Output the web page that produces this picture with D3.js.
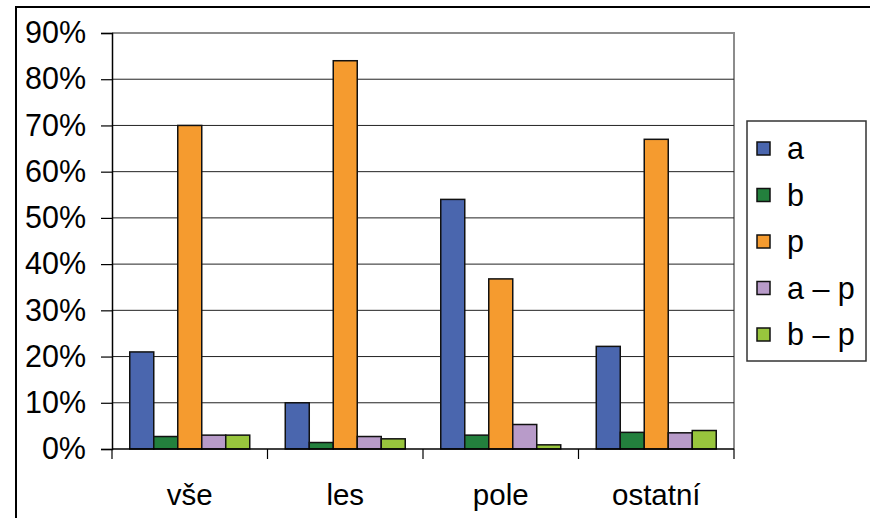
<!DOCTYPE html>
<html>
<head>
<meta charset="utf-8">
<script src="https://cdn.jsdelivr.net/npm/d3@7"></script>
<style>
  body { margin: 0; background: #fff; }
  svg { display: block; font-family: "Liberation Sans", Arial, sans-serif; }
</style>
</head>
<body>
<div id="chart"></div>
<script>
  var categories = ["vše", "les", "pole", "ostatní"];
  var seriesNames = ["a", "b", "p", "a – p", "b – p"];
  var seriesColors = ["#4a66ae", "#23803d", "#f59b2f", "#b89bc9", "#98c53d"];
  // values in %, one array per series, in category order
  var valA = [21, 10, 54, 22.2];
  var valB = [2.7, 1.4, 3.0, 3.6];
  var valP = [70, 84, 36.8, 67];
  var valAP = [3.0, 2.7, 5.3, 3.5];
  var valBP = [3.0, 2.2, 0.9, 4.0];
  var yTicks = [0, 10, 20, 30, 40, 50, 60, 70, 80, 90];

  var seriesValues = [valA, valB, valP, valAP, valBP];

  var width = 870, height = 518;
  var plot = { left: 112, right: 734, top: 33, bottom: 449 };

  var svg = d3.select("#chart")
    .append("svg")
    .attr("width", width)
    .attr("height", height);

  // outer frame (cut off on right and bottom)
  svg.append("path")
    .attr("d", "M16," + height + "V7H" + width)
    .attr("fill", "none")
    .attr("stroke", "#000")
    .attr("stroke-width", 2);

  var x0 = d3.scaleBand().domain(categories).range([plot.left, plot.right]).padding(0);
  var x1 = d3.scaleBand().domain(seriesNames).range([0, x0.bandwidth()]).paddingInner(0).paddingOuter(0.74);
  var y = d3.scaleLinear().domain([0, 90]).range([plot.bottom, plot.top]);

  // plot frame top/right in gray
  svg.append("path")
    .attr("d", "M" + plot.left + "," + plot.top + "H" + plot.right + "V" + plot.bottom)
    .attr("fill", "none")
    .attr("stroke", "#8c8c8c")
    .attr("stroke-width", 2);

  // gridlines
  svg.append("g")
    .selectAll("line")
    .data(yTicks.filter(function(d) { return d > 0 && d < 90; }))
    .enter()
    .append("line")
    .attr("x1", plot.left)
    .attr("x2", plot.right)
    .attr("y1", function(d) { return y(d); })
    .attr("y2", function(d) { return y(d); })
    .attr("stroke", "#222")
    .attr("stroke-width", 1);

  // bars
  var groups = svg.append("g")
    .selectAll("g")
    .data(categories)
    .enter()
    .append("g")
    .attr("transform", function(d) { return "translate(" + x0(d) + ",0)"; });

  groups.selectAll("rect")
    .data(function(c, ci) {
      return seriesNames.map(function(s, si) {
        return { s: s, v: seriesValues[si][ci], color: seriesColors[si] };
      });
    })
    .enter()
    .append("rect")
    .attr("x", function(d) { return x1(d.s); })
    .attr("width", x1.bandwidth())
    .attr("y", function(d) { return y(d.v); })
    .attr("height", function(d) { return plot.bottom - y(d.v); })
    .attr("fill", function(d) { return d.color; })
    .attr("stroke", "#111")
    .attr("stroke-width", 1.5);

  // y axis
  var yAxis = svg.append("g")
    .attr("transform", "translate(" + plot.left + ",0)")
    .call(d3.axisLeft(y).tickValues(yTicks).tickSize(11).tickPadding(15)
      .tickFormat(function(d) { return d + "%"; }));
  yAxis.select(".domain").attr("stroke", "#000").attr("stroke-width", 1.5);
  yAxis.selectAll(".tick line").attr("stroke", "#000").attr("stroke-width", 1.2);
  yAxis.selectAll("text")
    .attr("font-size", 30.5)
    .attr("font-family", "Liberation Sans, Arial, sans-serif")
    .attr("fill", "#000");

  // x axis: ticks at category boundaries
  var xAxis = svg.append("g")
    .attr("transform", "translate(0," + plot.bottom + ")");
  xAxis.append("line")
    .attr("x1", plot.left).attr("x2", plot.right)
    .attr("stroke", "#000").attr("stroke-width", 1.5);
  xAxis.selectAll(".bt")
    .data(categories.concat([null]))
    .enter()
    .append("line")
    .attr("class", "bt")
    .attr("x1", function(d) { return d === null ? plot.right : x0(d); })
    .attr("x2", function(d) { return d === null ? plot.right : x0(d); })
    .attr("y1", 0).attr("y2", 10)
    .attr("stroke", "#000").attr("stroke-width", 1.2);
  xAxis.selectAll("text")
    .data(categories)
    .enter()
    .append("text")
    .attr("x", function(d) { return x0(d) + x0.bandwidth() / 2; })
    .attr("y", 56)
    .attr("text-anchor", "middle")
    .attr("font-size", 29.5)
    .text(function(d) { return d; });

  // legend
  var legend = svg.append("g");
  legend.append("rect")
    .attr("x", 747).attr("y", 121)
    .attr("width", 119).attr("height", 240)
    .attr("fill", "#fff")
    .attr("stroke", "#333")
    .attr("stroke-width", 1.5);

  var items = legend.selectAll(".item")
    .data(seriesNames)
    .enter()
    .append("g")
    .attr("class", "item")
    .attr("transform", function(d, i) { return "translate(757," + (148.5 + i * 46.5) + ")"; });

  items.append("rect")
    .attr("x", 0).attr("y", -6.5)
    .attr("width", 13).attr("height", 13)
    .attr("fill", function(d, i) { return seriesColors[i]; })
    .attr("stroke", "#111")
    .attr("stroke-width", 1.5);

  items.append("text")
    .attr("x", 30)
    .attr("y", 0)
    .attr("dy", "0.36em")
    .attr("font-size", 30.5)
    .text(function(d) { return d; });
</script>
</body>
</html>
